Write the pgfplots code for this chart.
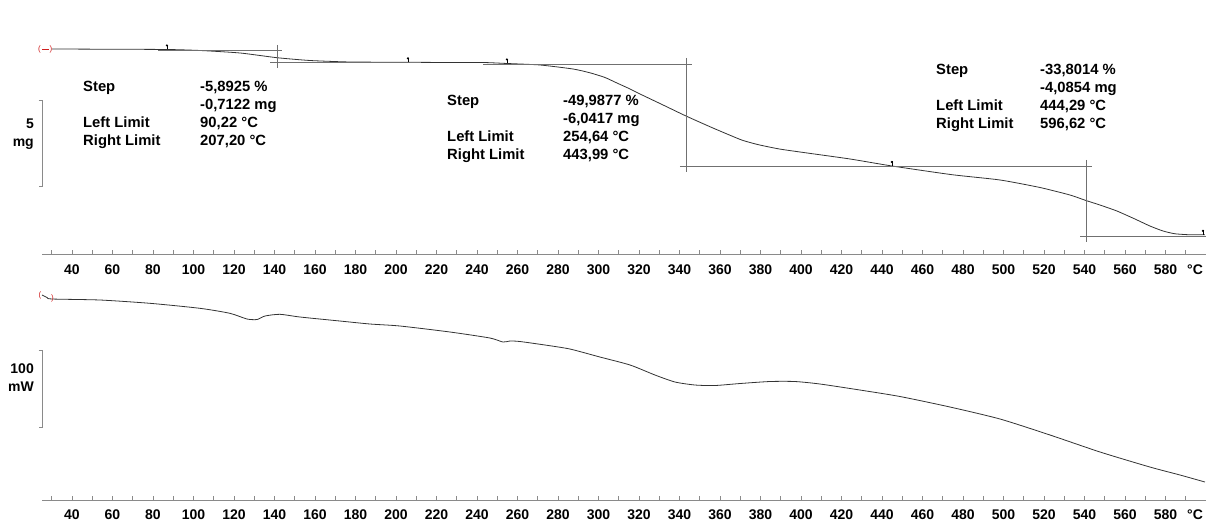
\documentclass[border=0pt]{standalone}
\usepackage{pgfplots}
\pgfplotsset{compat=1.18}
\usepackage{fontspec}
\setmainfont{Liberation Sans}

\definecolor{axgray}{HTML}{8A8A8A}
\definecolor{curve}{HTML}{333333}
\definecolor{limgray}{HTML}{707070}
\definecolor{mred}{HTML}{D02020}

\pgfdeclareplotmark{limit}{%
  \pgfpathmoveto{\pgfpoint{0pt}{0pt}}\pgfpathlineto{\pgfpoint{0pt}{4.5pt}}\pgfusepathqstroke
  \pgfpathcircle{\pgfpoint{0pt}{4pt}}{1.2pt}\pgfusepathqfill}

\pgfplotsset{ta/.style={
  scale only axis, width=1164pt, xmin=25.2, xmax=600,
  axis x line*=bottom, axis y line=none, ytick=\empty,
  axis line style={draw=axgray, line width=0.8pt, -},
  xtick={40,60,...,580}, minor xtick={30,50,...,590},
  tick align=inside, major tick length=4pt, minor tick length=4pt,
  every tick/.style={axgray, line width=0.8pt},
  xticklabel style={font=\bfseries\fontsize{14}{14}\selectfont, inner sep=0pt, anchor=north, yshift=-10pt},
  /pgf/number format/assume math mode=true, /pgf/number format/1000 sep={},
  clip=false}}

\newcommand{\af}{\bfseries\fontsize{14.8}{18}\selectfont}

\begin{document}
\begin{tikzpicture}
\useasboundingbox (0pt,0pt) rectangle (1206pt,521pt);

% ---------------- TGA (mass, mg) ----------------
\begin{axis}[ta, at={(42pt,266.5pt)}, anchor=south west, height=214pt, ymin=0.138, ymax=12.58]
\addplot[curve, line width=0.8pt, smooth, tension=0.35] coordinates {
(30.1,12.086) (53.8,12.074) (86.9,12.057) (103.2,11.999) (123.0,11.853) (141.2,11.580)
(157.5,11.417) (177.3,11.330) (205.9,11.313) (226.7,11.301) (243.0,11.301) (254.8,11.243)
(271.1,11.156) (287.4,10.923) (295.8,10.702) (303.2,10.429) (309.1,10.109) (315.6,9.760)
(320.5,9.470) (331.9,8.830) (343.2,8.191) (356.5,7.493) (369.9,6.830) (374.8,6.650)
(379.8,6.499) (389.6,6.266) (403.0,6.040) (424.2,5.691) (444.9,5.284) (474.5,4.779)
(498.3,4.470) (518.0,4.034) (532.8,3.598) (540.7,3.278) (547.6,3.016) (556.0,2.667)
(564.9,2.202) (572.3,1.795) (578.8,1.504) (584.7,1.342) (592.1,1.284) (599.5,1.284)};
% step evaluation lines
\addplot[limgray, line width=0.7pt] coordinates {(82.5,11.987) (143.7,11.987)};
\addplot[limgray, line width=0.7pt] coordinates {(141.2,12.319) (141.2,10.981)};
\addplot[limgray, line width=0.7pt] coordinates {(137.8,11.313) (206.9,11.313)};
\addplot[limgray, line width=0.7pt] coordinates {(243.0,11.196) (346.2,11.196)};
\addplot[limgray, line width=0.7pt] coordinates {(343.2,11.563) (343.2,4.935)};
\addplot[limgray, line width=0.7pt] coordinates {(340.2,5.284) (543.7,5.284)};
\addplot[limgray, line width=0.7pt] coordinates {(540.7,5.633) (540.7,0.865)};
\addplot[limgray, line width=0.7pt] coordinates {(537.8,1.214) (600,1.214)};
% limit markers
\addplot[only marks, mark=limit, black, line width=0.7pt] coordinates {
(86.9,12.057) (205.9,11.313) (254.8,11.243) (444.9,5.284) (598.5,1.284)};
% scale bracket 5 mg
\draw[axgray, line width=0.8pt] (axis cs:23.5,9.12) -- (axis cs:25.2,9.12) -- (axis cs:25.2,4.12) -- (axis cs:23.5,4.12);
\end{axis}

% ---------------- DSC (heat flow, mW) ----------------
\begin{axis}[ta, at={(42pt,21pt)}, anchor=south west, height=215pt, ymin=-261.0, ymax=18.2]
\addplot[curve, line width=0.8pt, smooth, tension=0.4] coordinates {
(25.2,5.19) (27.7,1.95) (30.1,0) (53.8,-1.30) (78.5,-5.58) (103.2,-12.08) (118.0,-18.57)
(126.4,-25.97) (131.4,-26.62) (135.3,-22.08) (142.7,-19.87) (152.6,-23.38) (172.3,-28.57)
(187.2,-32.47) (202.0,-35.06) (226.7,-42.86) (246.4,-50.65) (252.8,-55.84) (256.3,-54.54)
(261.2,-55.19) (273.6,-59.74) (285.9,-64.94) (300.7,-75.32) (315.6,-85.71) (327.9,-98.70)
(337.8,-107.79) (347.7,-111.69) (357.5,-112.34) (369.9,-109.74) (384.7,-107.14) (397.0,-107.14)
(409.4,-110.39) (429.1,-118.18) (448.9,-126.62) (473.6,-140.26) (498.3,-155.84) (523.0,-176.62)
(547.7,-198.70) (572.3,-218.18) (587.2,-228.57) (599.5,-237.66)};
% scale bracket 100 mW
\draw[axgray, line width=0.8pt] (axis cs:23.5,-66.2) -- (axis cs:25.2,-66.2) -- (axis cs:25.2,-166.2) -- (axis cs:23.5,-166.2);
\end{axis}

% ---------------- annotations ----------------
\begin{scope}[every node/.style={inner sep=0pt, font=\af}]
% scale labels
\node[anchor=east, align=right, font=\bfseries\fontsize{14}{18}\selectfont] at (34pt,387pt) {5\\mg};
\node[anchor=east, align=right, font=\bfseries\fontsize{14}{18}\selectfont] at (34pt,143.5pt) {100\\mW};
% unit labels
\node[font=\bfseries\fontsize{14}{14}\selectfont] at (1195pt,251.5pt) {°C};
\node[font=\bfseries\fontsize{14}{14}\selectfont] at (1195pt,6pt) {°C};
% red start markers
\node[mred, font=\fontsize{8}{8}\selectfont] at (39.5pt,472pt) {(};
\node[mred, font=\fontsize{8}{8}\selectfont] at (51pt,472pt) {)};
\draw[mred, line width=0.7pt] (42pt,472pt) -- (48.5pt,472pt);
\node[mred, font=\fontsize{8}{8}\selectfont] at (40pt,226pt) {(};
\node[mred, font=\fontsize{8}{8}\selectfont] at (52.5pt,223pt) {)};
% step 1
\node[anchor=base west] at (83pt,429.3pt) {Step};
\node[anchor=base west] at (200pt,429.3pt) {-5,8925 \%};
\node[anchor=base west] at (200pt,411.3pt) {-0,7122 mg};
\node[anchor=base west] at (83pt,393.3pt) {Left Limit};
\node[anchor=base west] at (200pt,393.3pt) {90,22 °C};
\node[anchor=base west] at (83pt,375.3pt) {Right Limit};
\node[anchor=base west] at (200pt,375.3pt) {207,20 °C};
% step 2
\node[anchor=base west] at (447pt,415pt) {Step};
\node[anchor=base west] at (563pt,415pt) {-49,9877 \%};
\node[anchor=base west] at (563pt,397pt) {-6,0417 mg};
\node[anchor=base west] at (447pt,379pt) {Left Limit};
\node[anchor=base west] at (563pt,379pt) {254,64 °C};
\node[anchor=base west] at (447pt,361pt) {Right Limit};
\node[anchor=base west] at (563pt,361pt) {443,99 °C};
% step 3
\node[anchor=base west] at (936pt,446pt) {Step};
\node[anchor=base west] at (1040pt,446pt) {-33,8014 \%};
\node[anchor=base west] at (1040pt,428pt) {-4,0854 mg};
\node[anchor=base west] at (936pt,410pt) {Left Limit};
\node[anchor=base west] at (1040pt,410pt) {444,29 °C};
\node[anchor=base west] at (936pt,392pt) {Right Limit};
\node[anchor=base west] at (1040pt,392pt) {596,62 °C};
\end{scope}
\end{tikzpicture}
\end{document}
